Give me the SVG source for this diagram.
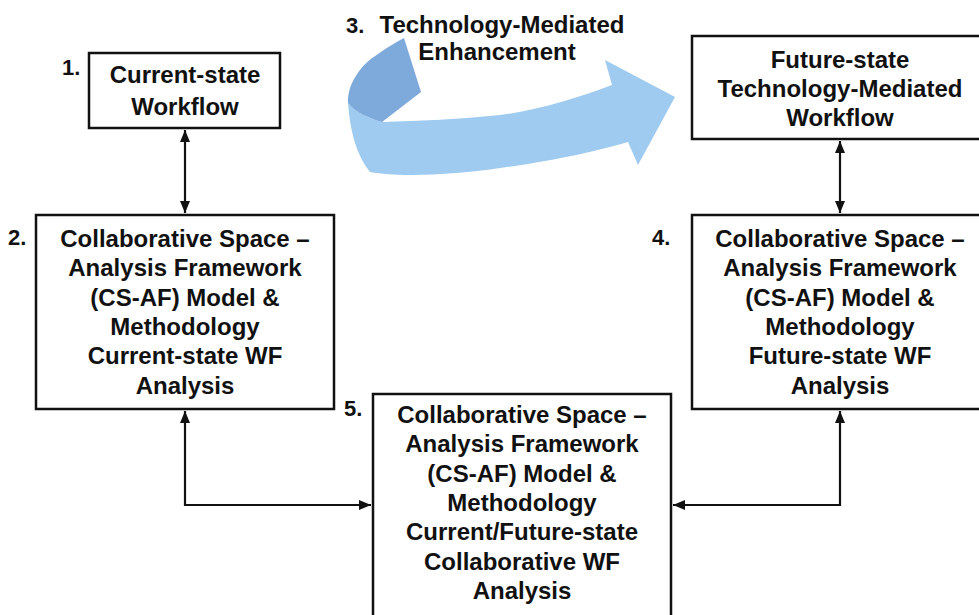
<svg xmlns="http://www.w3.org/2000/svg" width="979" height="615" viewBox="0 0 979 615">
<style>
  .box { fill: #ffffff; stroke: #111111; stroke-width: 2.5; }
  .t { font-family: "Liberation Sans", Arial, sans-serif; font-weight: bold; font-size: 24px; fill: #111111; text-anchor: middle; }
  .num { font-family: "Liberation Sans", Arial, sans-serif; font-weight: bold; font-size: 22px; fill: #111111; }
  .conn { fill: none; stroke: #111111; stroke-width: 2.2; }
</style>
<defs>
  <marker id="ah" viewBox="0 0 12 10" refX="12" refY="5" markerWidth="12" markerHeight="10" markerUnits="userSpaceOnUse" orient="auto-start-reverse">
    <path d="M0,0 L12,5 L0,10 Z" fill="#111111"/>
  </marker>
</defs>
<rect width="979" height="615" fill="#ffffff"/>

<g id="enhancement-arrow">
  <path d="M348,103 C350,130 356,155 370,172 C400,178 460,174 500,168 C560,160 600,150 628,142 L638,165 L675,97 L605,60 L612,85 C580,97 540,110 500,115 C460,119 420,121 382,122 C368,118 355,112 348,103 Z" fill="#9ecbef"/>
  <path d="M404,38 L421,92 L382,122 C368,118 355,112 348,103 C347,85 360,65 378,54 C388,47 396,42 404,38 Z" fill="#7eaadb"/>
  <text class="num" x="346" y="33">3.</text>
  <text class="t" x="502" y="33">Technology-Mediated</text>
  <text class="t" x="497" y="60">Enhancement</text>
</g>

<g id="node1">
  <rect class="box" x="89" y="53" width="191" height="75"/>
  <text class="num" x="62" y="75">1.</text>
  <text class="t" x="185" y="83">Current-state</text>
  <text class="t" x="185" y="115">Workflow</text>
</g>

<g id="node-future">
  <rect class="box" x="692" y="36" width="300" height="103"/>
  <text class="t" x="840" y="68">Future-state</text>
  <text class="t" x="840" y="97">Technology-Mediated</text>
  <text class="t" x="840" y="126">Workflow</text>
</g>

<g id="node2">
  <rect class="box" x="36" y="215" width="298" height="194"/>
  <text class="num" x="8" y="245">2.</text>
  <text class="t" x="185" y="247">Collaborative Space –</text>
  <text class="t" x="185" y="276.3">Analysis Framework</text>
  <text class="t" x="185" y="305.6">(CS-AF) Model &amp;</text>
  <text class="t" x="185" y="334.9">Methodology</text>
  <text class="t" x="185" y="364.2">Current-state WF</text>
  <text class="t" x="185" y="393.5">Analysis</text>
</g>

<g id="node4">
  <rect class="box" x="692" y="215" width="300" height="194"/>
  <text class="num" x="652" y="245">4.</text>
  <text class="t" x="840" y="247">Collaborative Space –</text>
  <text class="t" x="840" y="276.3">Analysis Framework</text>
  <text class="t" x="840" y="305.6">(CS-AF) Model &amp;</text>
  <text class="t" x="840" y="334.9">Methodology</text>
  <text class="t" x="840" y="364.2">Future-state WF</text>
  <text class="t" x="840" y="393.5">Analysis</text>
</g>

<g id="node5">
  <rect class="box" x="373" y="394" width="298" height="240"/>
  <text class="num" x="344" y="416">5.</text>
  <text class="t" x="522" y="423">Collaborative Space –</text>
  <text class="t" x="522" y="452.3">Analysis Framework</text>
  <text class="t" x="522" y="481.6">(CS-AF) Model &amp;</text>
  <text class="t" x="522" y="510.9">Methodology</text>
  <text class="t" x="522" y="540.2">Current/Future-state</text>
  <text class="t" x="522" y="569.5">Collaborative WF</text>
  <text class="t" x="522" y="598.8">Analysis</text>
</g>

<g id="connectors">
  <path class="conn" d="M185,130 V213" marker-start="url(#ah)" marker-end="url(#ah)"/>
  <path class="conn" d="M840,141 V213" marker-start="url(#ah)" marker-end="url(#ah)"/>
  <path class="conn" d="M185,411 V505 H371" marker-start="url(#ah)" marker-end="url(#ah)"/>
  <path class="conn" d="M840,411 V505 H673" marker-start="url(#ah)" marker-end="url(#ah)"/>
</g>
</svg>
